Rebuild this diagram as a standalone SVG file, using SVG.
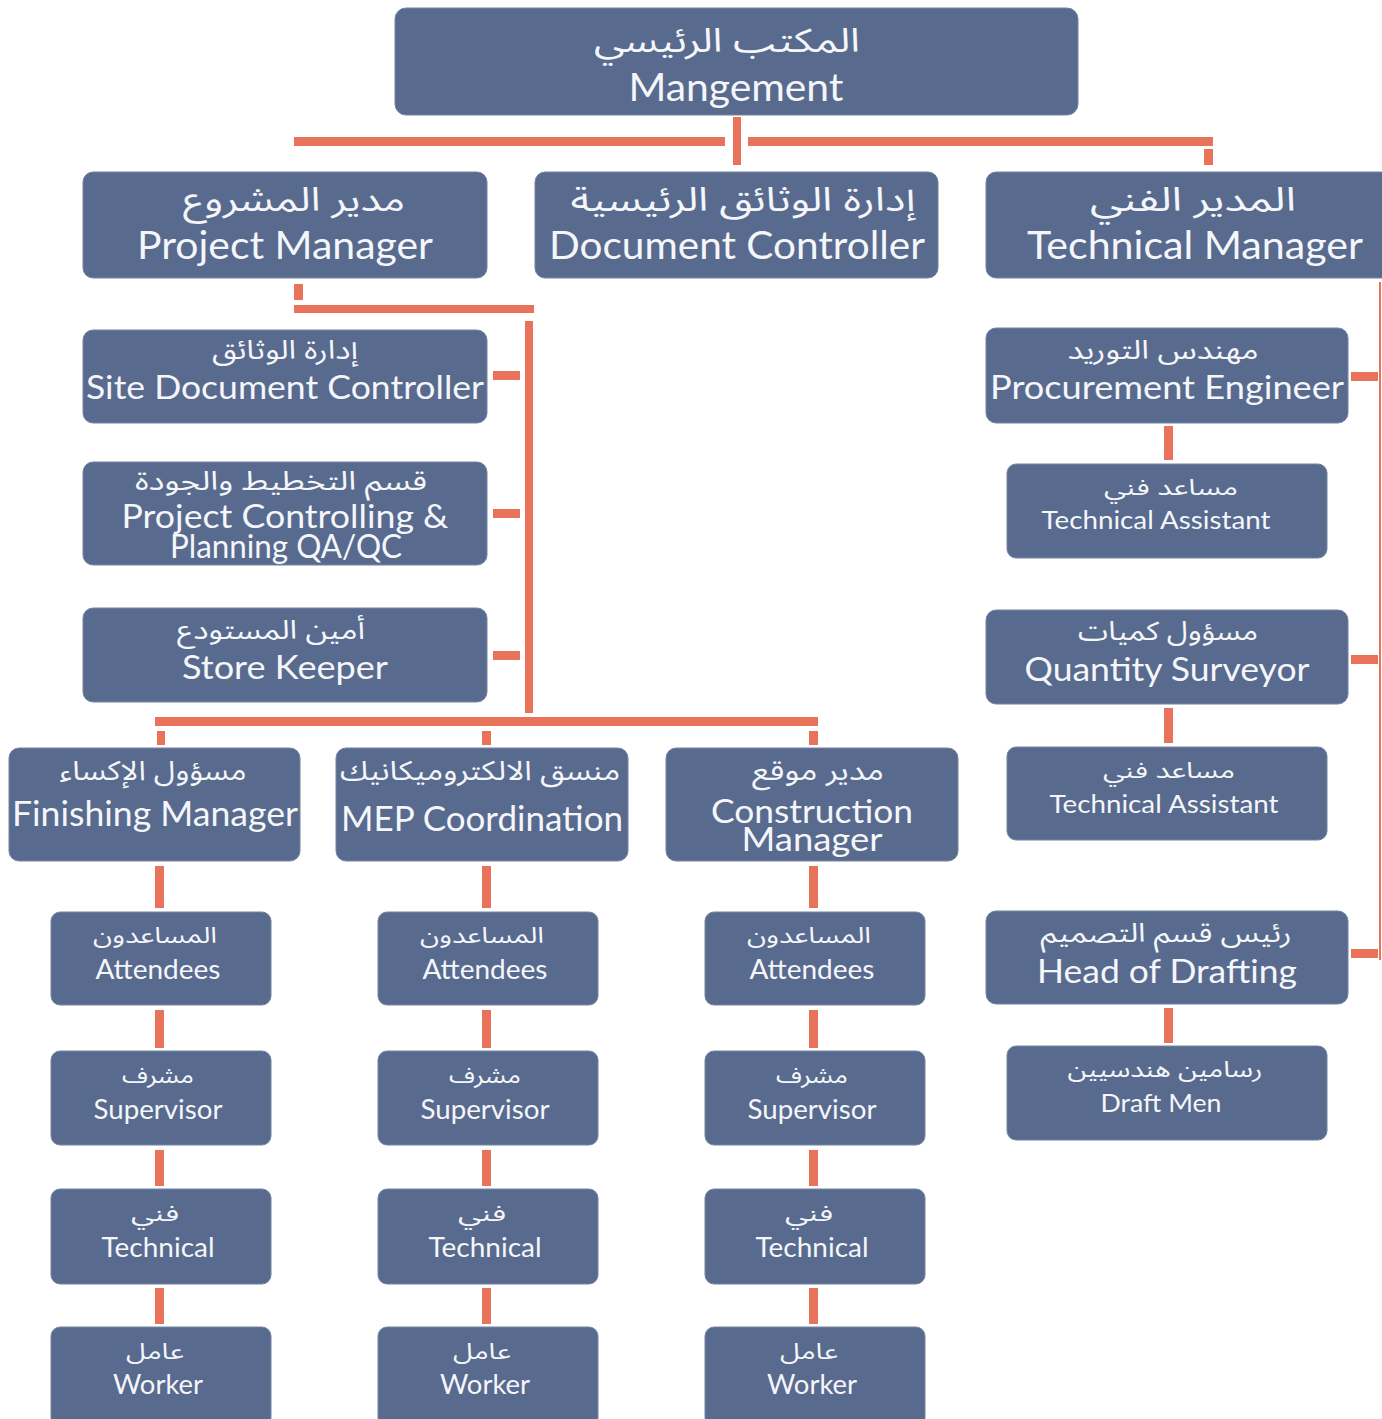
<svg xmlns="http://www.w3.org/2000/svg" width="1382" height="1419" viewBox="0 0 1382 1419">
<style>
.box{fill:#586a8d;stroke:#7484a4;stroke-width:1}
.c{fill:#e8735a}
.en{font-family:Lato,"Open Sans","Liberation Sans",sans-serif;fill:#f4f6fa;text-anchor:middle}
.ar{font-family:"Noto Sans Arabic","DejaVu Sans","Noto Sans",sans-serif;fill:#f4f6fa;text-anchor:middle}
</style>
<rect width="1382" height="1419" fill="#ffffff"/>
<g id="connectors">
<rect class="c" x="733" y="117" width="8" height="48"/>
<rect class="c" x="294" y="137" width="431" height="9"/>
<rect class="c" x="748" y="137" width="465" height="9"/>
<rect class="c" x="1204" y="149" width="9" height="16"/>
<rect class="c" x="294" y="284" width="9" height="16"/>
<rect class="c" x="294" y="305" width="240" height="8"/>
<rect class="c" x="525" y="321" width="8" height="392"/>
<rect class="c" x="493" y="371" width="27" height="9"/>
<rect class="c" x="493" y="509" width="27" height="9"/>
<rect class="c" x="493" y="651" width="27" height="9"/>
<rect class="c" x="155" y="717" width="663" height="9"/>
<rect class="c" x="157" y="731" width="8" height="14"/>
<rect class="c" x="482" y="731" width="9" height="14"/>
<rect class="c" x="809" y="731" width="9" height="14"/>
<rect class="c" x="155" y="866" width="9" height="42"/>
<rect class="c" x="155" y="1010" width="9" height="38"/>
<rect class="c" x="155" y="1150" width="9" height="36"/>
<rect class="c" x="155" y="1288" width="9" height="36"/>
<rect class="c" x="482" y="866" width="9" height="42"/>
<rect class="c" x="482" y="1010" width="9" height="38"/>
<rect class="c" x="482" y="1150" width="9" height="36"/>
<rect class="c" x="482" y="1288" width="9" height="36"/>
<rect class="c" x="809" y="866" width="9" height="42"/>
<rect class="c" x="809" y="1010" width="9" height="38"/>
<rect class="c" x="809" y="1150" width="9" height="36"/>
<rect class="c" x="809" y="1288" width="9" height="36"/>
<rect class="c" x="1164" y="426" width="9" height="34"/>
<rect class="c" x="1164" y="708" width="9" height="35"/>
<rect class="c" x="1164" y="1008" width="9" height="35"/>
<rect class="c" x="1351" y="372" width="27" height="9"/>
<rect class="c" x="1351" y="655" width="27" height="9"/>
<rect class="c" x="1351" y="949" width="27" height="9"/>
<rect class="c" x="1379" y="282" width="2" height="678"/>
</g>
<g id="management">
<rect class="box" x="395" y="8" width="683" height="107" rx="11"/>
<text class="ar" x="727" y="52" font-size="33" textLength="266" lengthAdjust="spacingAndGlyphs">المكتب الرئيسي</text>
<text class="en" x="736" y="101" font-size="38" textLength="215" lengthAdjust="spacingAndGlyphs">Mangement</text>
</g>
<g id="project-manager">
<rect class="box" x="83" y="172" width="404" height="106" rx="10"/>
<text class="ar" x="294" y="211" font-size="33" textLength="222" lengthAdjust="spacingAndGlyphs">مدير المشروع</text>
<text class="en" x="285" y="259" font-size="38" textLength="296" lengthAdjust="spacingAndGlyphs">Project Manager</text>
</g>
<g id="document-controller">
<rect class="box" x="535" y="172" width="403" height="106" rx="10"/>
<text class="ar" x="743" y="211" font-size="33" textLength="345" lengthAdjust="spacingAndGlyphs">إدارة الوثائق الرئيسية</text>
<text class="en" x="737" y="259" font-size="38" textLength="376" lengthAdjust="spacingAndGlyphs">Document Controller</text>
</g>
<g id="technical-manager">
<rect class="box" x="986" y="172" width="410" height="106" rx="10"/>
<text class="ar" x="1193" y="211" font-size="33" textLength="206" lengthAdjust="spacingAndGlyphs">المدير الفني</text>
<text class="en" x="1195" y="259" font-size="38" textLength="336" lengthAdjust="spacingAndGlyphs">Technical Manager</text>
</g>
<g id="site-document-controller">
<rect class="box" x="83" y="330" width="404" height="93" rx="10"/>
<text class="ar" x="285" y="359" font-size="26" textLength="146" lengthAdjust="spacingAndGlyphs">إدارة الوثائق</text>
<text class="en" x="285" y="399" font-size="33" textLength="398" lengthAdjust="spacingAndGlyphs">Site Document Controller</text>
</g>
<g id="project-controlling">
<rect class="box" x="83" y="462" width="404" height="103" rx="10"/>
<text class="ar" x="281" y="490" font-size="26" textLength="292" lengthAdjust="spacingAndGlyphs">قسم التخطيط والجودة</text>
<text class="en" x="285" y="528" font-size="32" textLength="327" lengthAdjust="spacingAndGlyphs">Project Controlling &amp;</text>
<text class="en" x="286" y="558" font-size="32" textLength="232" lengthAdjust="spacingAndGlyphs">Planning QA/QC</text>
</g>
<g id="store-keeper">
<rect class="box" x="83" y="608" width="404" height="94" rx="10"/>
<text class="ar" x="271" y="639" font-size="26" textLength="188" lengthAdjust="spacingAndGlyphs">أمين المستودع</text>
<text class="en" x="285" y="679" font-size="33" textLength="206" lengthAdjust="spacingAndGlyphs">Store Keeper</text>
</g>
<g id="finishing-manager">
<rect class="box" x="9" y="748" width="291" height="113" rx="10"/>
<text class="ar" x="153" y="780" font-size="27" textLength="187" lengthAdjust="spacingAndGlyphs">مسؤول الإكساء</text>
<text class="en" x="155" y="826" font-size="34" textLength="286" lengthAdjust="spacingAndGlyphs">Finishing Manager</text>
</g>
<g id="mep-coordination">
<rect class="box" x="336" y="748" width="292" height="113" rx="10"/>
<text class="ar" x="480" y="780" font-size="27" textLength="280" lengthAdjust="spacingAndGlyphs">منسق الالكتروميكانيك</text>
<text class="en" x="482" y="831" font-size="34" textLength="282" lengthAdjust="spacingAndGlyphs">MEP Coordination</text>
</g>
<g id="construction-manager">
<rect class="box" x="666" y="748" width="292" height="113" rx="10"/>
<text class="ar" x="818" y="780" font-size="27" textLength="132" lengthAdjust="spacingAndGlyphs">مدير موقع</text>
<text class="en" x="812" y="823" font-size="33" textLength="202" lengthAdjust="spacingAndGlyphs">Construction</text>
<text class="en" x="812" y="851" font-size="33" textLength="141" lengthAdjust="spacingAndGlyphs">Manager</text>
</g>
<g id="attendees-1">
<rect class="box" x="51" y="912" width="220" height="93" rx="9"/>
<text class="ar" x="155" y="943" font-size="22" textLength="124" lengthAdjust="spacingAndGlyphs">المساعدون</text>
<text class="en" x="158" y="979" font-size="26" textLength="125" lengthAdjust="spacingAndGlyphs">Attendees</text>
</g>
<g id="supervisor-1">
<rect class="box" x="51" y="1051" width="220" height="94" rx="9"/>
<text class="ar" x="158" y="1083" font-size="22" textLength="72" lengthAdjust="spacingAndGlyphs">مشرف</text>
<text class="en" x="158" y="1119" font-size="26" textLength="129" lengthAdjust="spacingAndGlyphs">Supervisor</text>
</g>
<g id="technical-1">
<rect class="box" x="51" y="1189" width="220" height="95" rx="9"/>
<text class="ar" x="155" y="1221" font-size="22" textLength="48" lengthAdjust="spacingAndGlyphs">فني</text>
<text class="en" x="158" y="1257" font-size="26" textLength="113" lengthAdjust="spacingAndGlyphs">Technical</text>
</g>
<g id="worker-1">
<rect class="box" x="51" y="1327" width="220" height="100" rx="9"/>
<text class="ar" x="155" y="1359" font-size="22" textLength="58" lengthAdjust="spacingAndGlyphs">عامل</text>
<text class="en" x="158" y="1394" font-size="26" textLength="90" lengthAdjust="spacingAndGlyphs">Worker</text>
</g>
<g id="attendees-2">
<rect class="box" x="378" y="912" width="220" height="93" rx="9"/>
<text class="ar" x="482" y="943" font-size="22" textLength="124" lengthAdjust="spacingAndGlyphs">المساعدون</text>
<text class="en" x="485" y="979" font-size="26" textLength="125" lengthAdjust="spacingAndGlyphs">Attendees</text>
</g>
<g id="supervisor-2">
<rect class="box" x="378" y="1051" width="220" height="94" rx="9"/>
<text class="ar" x="485" y="1083" font-size="22" textLength="72" lengthAdjust="spacingAndGlyphs">مشرف</text>
<text class="en" x="485" y="1119" font-size="26" textLength="129" lengthAdjust="spacingAndGlyphs">Supervisor</text>
</g>
<g id="technical-2">
<rect class="box" x="378" y="1189" width="220" height="95" rx="9"/>
<text class="ar" x="482" y="1221" font-size="22" textLength="48" lengthAdjust="spacingAndGlyphs">فني</text>
<text class="en" x="485" y="1257" font-size="26" textLength="113" lengthAdjust="spacingAndGlyphs">Technical</text>
</g>
<g id="worker-2">
<rect class="box" x="378" y="1327" width="220" height="100" rx="9"/>
<text class="ar" x="482" y="1359" font-size="22" textLength="58" lengthAdjust="spacingAndGlyphs">عامل</text>
<text class="en" x="485" y="1394" font-size="26" textLength="90" lengthAdjust="spacingAndGlyphs">Worker</text>
</g>
<g id="attendees-3">
<rect class="box" x="705" y="912" width="220" height="93" rx="9"/>
<text class="ar" x="809" y="943" font-size="22" textLength="124" lengthAdjust="spacingAndGlyphs">المساعدون</text>
<text class="en" x="812" y="979" font-size="26" textLength="125" lengthAdjust="spacingAndGlyphs">Attendees</text>
</g>
<g id="supervisor-3">
<rect class="box" x="705" y="1051" width="220" height="94" rx="9"/>
<text class="ar" x="812" y="1083" font-size="22" textLength="72" lengthAdjust="spacingAndGlyphs">مشرف</text>
<text class="en" x="812" y="1119" font-size="26" textLength="129" lengthAdjust="spacingAndGlyphs">Supervisor</text>
</g>
<g id="technical-3">
<rect class="box" x="705" y="1189" width="220" height="95" rx="9"/>
<text class="ar" x="809" y="1221" font-size="22" textLength="48" lengthAdjust="spacingAndGlyphs">فني</text>
<text class="en" x="812" y="1257" font-size="26" textLength="113" lengthAdjust="spacingAndGlyphs">Technical</text>
</g>
<g id="worker-3">
<rect class="box" x="705" y="1327" width="220" height="100" rx="9"/>
<text class="ar" x="809" y="1359" font-size="22" textLength="58" lengthAdjust="spacingAndGlyphs">عامل</text>
<text class="en" x="812" y="1394" font-size="26" textLength="90" lengthAdjust="spacingAndGlyphs">Worker</text>
</g>
<g id="procurement-engineer">
<rect class="box" x="986" y="328" width="362" height="95" rx="10"/>
<text class="ar" x="1163" y="359" font-size="26" textLength="191" lengthAdjust="spacingAndGlyphs">مهندس التوريد</text>
<text class="en" x="1167" y="399" font-size="33" textLength="354" lengthAdjust="spacingAndGlyphs">Procurement Engineer</text>
</g>
<g id="technical-assistant-1">
<rect class="box" x="1007" y="464" width="320" height="94" rx="9"/>
<text class="ar" x="1171" y="495" font-size="22" textLength="134" lengthAdjust="spacingAndGlyphs">مساعد فني</text>
<text class="en" x="1156" y="529" font-size="25" textLength="229" lengthAdjust="spacingAndGlyphs">Technical Assistant</text>
</g>
<g id="quantity-surveyor">
<rect class="box" x="986" y="610" width="362" height="94" rx="10"/>
<text class="ar" x="1168" y="640" font-size="26" textLength="180" lengthAdjust="spacingAndGlyphs">مسؤول كميات</text>
<text class="en" x="1167" y="681" font-size="33" textLength="285" lengthAdjust="spacingAndGlyphs">Quantity Surveyor</text>
</g>
<g id="technical-assistant-2">
<rect class="box" x="1007" y="747" width="320" height="93" rx="9"/>
<text class="ar" x="1169" y="778" font-size="22" textLength="132" lengthAdjust="spacingAndGlyphs">مساعد فني</text>
<text class="en" x="1164" y="813" font-size="25" textLength="229" lengthAdjust="spacingAndGlyphs">Technical Assistant</text>
</g>
<g id="head-of-drafting">
<rect class="box" x="986" y="911" width="362" height="93" rx="10"/>
<text class="ar" x="1166" y="942" font-size="26" textLength="251" lengthAdjust="spacingAndGlyphs">رئيس قسم التصميم</text>
<text class="en" x="1167" y="983" font-size="33" textLength="260" lengthAdjust="spacingAndGlyphs">Head of Drafting</text>
</g>
<g id="draft-men">
<rect class="box" x="1007" y="1046" width="320" height="94" rx="9"/>
<text class="ar" x="1165" y="1077" font-size="22" textLength="195" lengthAdjust="spacingAndGlyphs">رسامين هندسيين</text>
<text class="en" x="1161" y="1112" font-size="25" textLength="121" lengthAdjust="spacingAndGlyphs">Draft Men</text>
</g>
</svg>
